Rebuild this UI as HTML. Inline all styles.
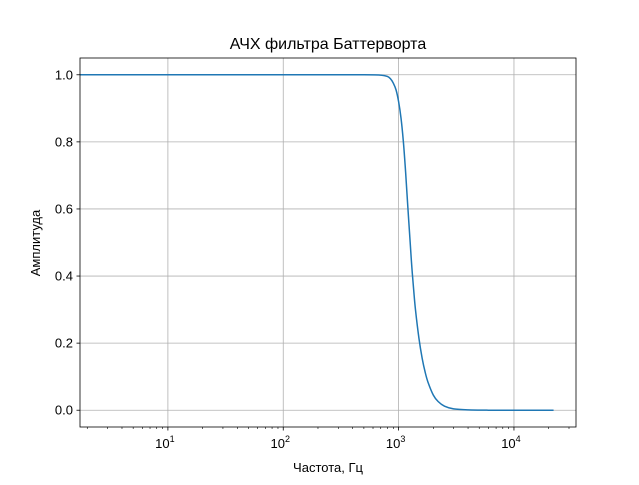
<!DOCTYPE html>
<html><head><meta charset="utf-8"><style>
body{margin:0;background:#fff}
svg text{font-family:"Liberation Sans","DejaVu Sans",sans-serif;fill:#000}
</style></head><body>
<svg id="chart" width="639" height="480" xmlns="http://www.w3.org/2000/svg">
<defs><clipPath id="clip"><rect x="80" y="58" width="496" height="369"/></clipPath></defs>
<text x="328" y="49" font-size="16" text-anchor="middle">АЧХ фильтра Баттерворта</text>
<g id="grid"></g>
<g id="line" clip-path="url(#clip)"></g>
<rect x="80" y="58" width="496" height="369" fill="none" stroke="#000" stroke-width="0.8"/>
<g id="ticks"></g>
<text x="328" y="472" font-size="13" text-anchor="middle">Частота, Гц</text>
<text x="0" y="0" font-size="13" text-anchor="middle" transform="translate(40,243) rotate(-90)">Амплитуда</text>
</svg>
<script>
const freqs=[1,100,500,700,800,850,900,950,1000,1050,1100,1150,1200,1260,1300,1350,1400,1500,1600,1700,1800,2000,2200,2500,3000,4000,6000,10000,22050];
const amps=[1,1,1,0.999,0.995,0.988,0.975,0.955,0.92,0.87,0.80,0.71,0.61,0.50,0.43,0.36,0.30,0.215,0.155,0.113,0.083,0.045,0.026,0.012,0.004,0.001,0.0001,0,0];
const yTicks=[0,0.2,0.4,0.6,0.8,1.0];
const xDecades=[1,2,3,4];
const L=80,R=576,T=58,B=427;
const xmin=Math.log10(1.73),xmax=Math.log10(34500);
const ymin=-0.05,ymax=1.05;
function X(f){return L+(Math.log10(f)-xmin)/(xmax-xmin)*(R-L);}
function Y(v){return B-(v-ymin)/(ymax-ymin)*(B-T);}
const NS="http://www.w3.org/2000/svg";
function mk(tag,attrs,parent){const e=document.createElementNS(NS,tag);for(const k in attrs)e.setAttribute(k,attrs[k]);parent.appendChild(e);return e;}
const grid=document.getElementById('grid'),ticks=document.getElementById('ticks'),lineG=document.getElementById('line');
yTicks.forEach(v=>{const y=Y(v);
 const g=mk('line',{x1:L,x2:R,y1:y,y2:y,stroke:'#b0b0b0','stroke-width':0.8},grid);
 
 
 mk('line',{x1:L-3.5,x2:L,y1:y,y2:y,stroke:'#000','stroke-width':0.8},ticks);
 const t=mk('text',{x:L-7,y:y+4.5,'font-size':13,'text-anchor':'end'},ticks);t.textContent=v.toFixed(1);
 
 
});
xDecades.forEach(d=>{const x=X(Math.pow(10,d));
 const g=mk('line',{x1:x,x2:x,y1:T,y2:B,stroke:'#b0b0b0','stroke-width':0.8},grid);
 
 
 mk('line',{x1:x,x2:x,y1:B,y2:B+3.5,stroke:'#000','stroke-width':0.8},ticks);
 const t=mk('text',{x:x-3,y:B+21,'font-size':13,'text-anchor':'middle'},ticks);
 t.innerHTML='10<tspan dy="-6" font-size="9">'+d+'</tspan>';
 
 
});
for(let d=0;d<=4;d++)for(let m=2;m<=9;m++){const f=m*Math.pow(10,d);if(f<1.73||f>34500)continue;const x=X(f);
 mk('line',{x1:x,x2:x,y1:B,y2:B+2,stroke:'#000','stroke-width':0.6},ticks);}
const P=freqs.map((f,i)=>[X(f),Y(amps[i])]);
let d='M'+P[0][0].toFixed(2)+','+P[0][1].toFixed(2);
for(let i=0;i<P.length-1;i++){const p0=P[Math.max(0,i-1)],p1=P[i],p2=P[i+1],p3=P[Math.min(P.length-1,i+2)];
 const c1=[p1[0]+(p2[0]-p0[0])/6,p1[1]+(p2[1]-p0[1])/6],c2=[p2[0]-(p3[0]-p1[0])/6,p2[1]-(p3[1]-p1[1])/6];
 d+=' C'+c1[0].toFixed(2)+','+c1[1].toFixed(2)+' '+c2[0].toFixed(2)+','+c2[1].toFixed(2)+' '+p2[0].toFixed(2)+','+p2[1].toFixed(2);}
const pl=mk('path',{d:d,fill:'none',stroke:'#1f77b4','stroke-width':1.5,'stroke-linejoin':'round'},lineG);


</script>
</body></html>
